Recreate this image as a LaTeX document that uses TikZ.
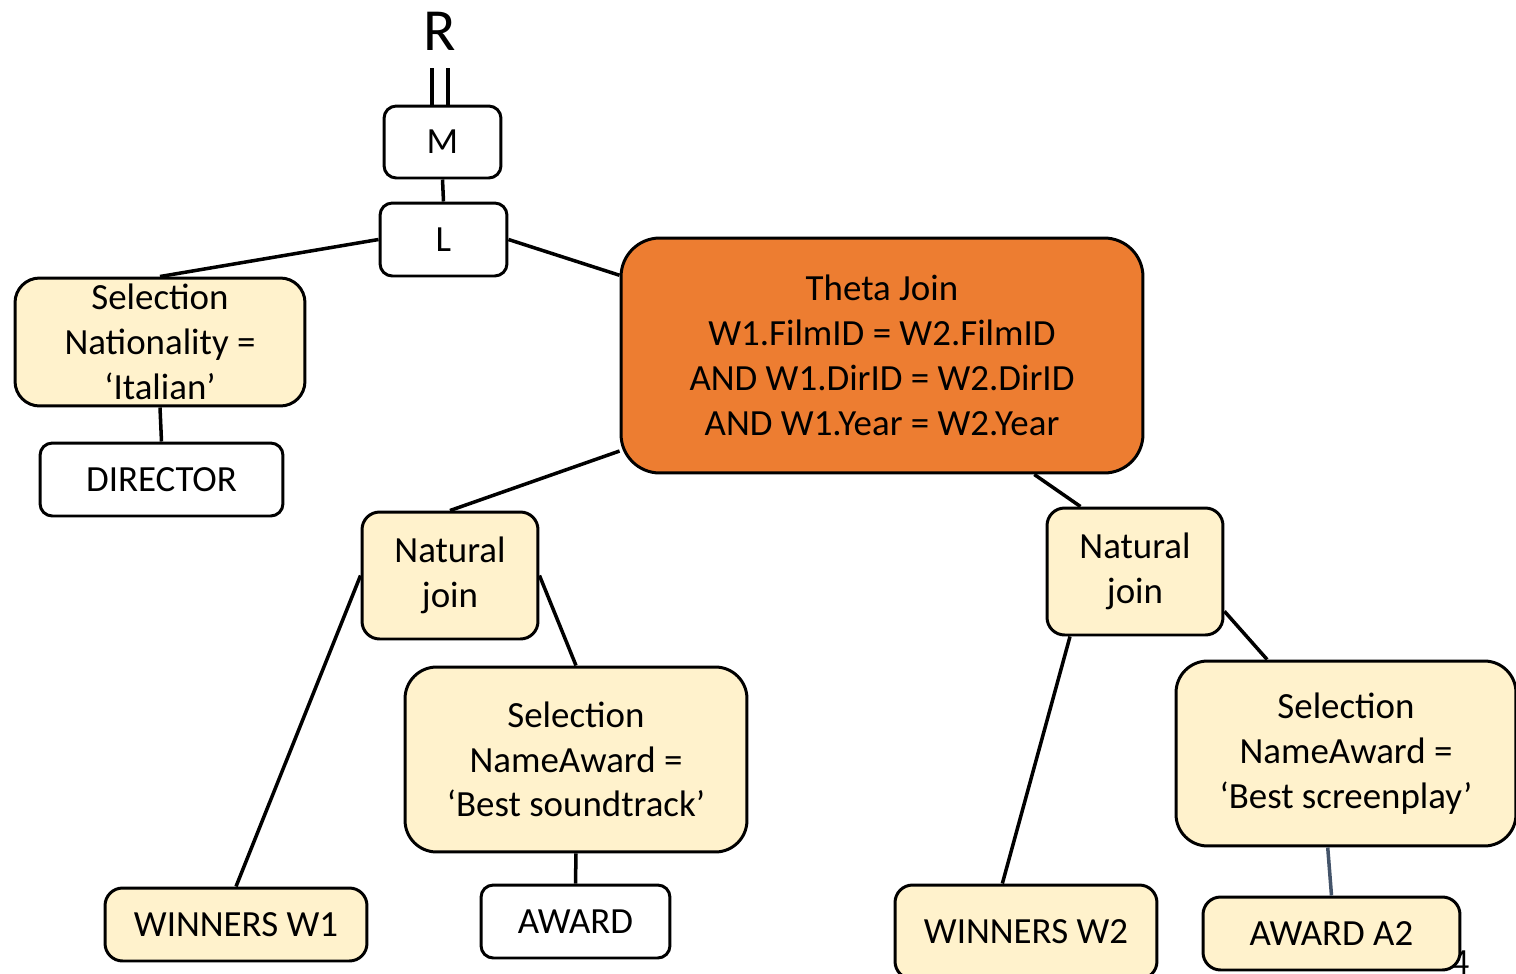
\documentclass[tikz,border=0pt]{standalone}
\usepackage{fontspec}
\setmainfont{Carlito}
\usepackage{tikz}
\usetikzlibrary{positioning,calc}
\definecolor{JoinOrange}{HTML}{ED7D31}
\definecolor{SelYellow}{HTML}{FFF2CC}
\definecolor{LinkSlate}{HTML}{44546A}

\begin{document}
\begin{tikzpicture}[x=0.02cm,y=-0.02cm,
  every node/.style={font=\fontsize{21}{25.5}\selectfont,align=center,inner sep=0pt},
  opbox/.style={draw,line width=1.7pt,rounded corners=7pt,fill=white},
  selbox/.style={opbox,fill=SelYellow,rounded corners=14pt},
  link/.style={line width=2pt}]
  \useasboundingbox (0,0) rectangle (1516,974);
  % result and top operators
  \node (R) at (440,31) {\fontsize{34}{40}\selectfont R};
  \node[opbox,minimum width=2.34cm,minimum height=1.44cm] (M) at (442.5,142) {M};
  \node[opbox,minimum width=2.54cm,minimum height=1.46cm] (L) at (443.5,239.5) {L};
  \coordinate (Ra) at (432,68);
  \coordinate (Rb) at (448,68);
  \draw[link] (Ra) -- (Ra |- M.north);
  \draw[link] (Rb) -- (Rb |- M.north);
  \draw[link] (M.south) -- (L.north);
  % director branch
  \node[selbox,minimum width=5.8cm,minimum height=2.56cm] (selNat) at (160,342)
    {Selection\\Nationality =\\‘Italian’};
  \node[opbox,minimum width=4.86cm,minimum height=1.46cm] (dir) at (161.5,479.5) {DIRECTOR};
  \draw[link] (L.west) -- (selNat.north);
  \draw[link] (selNat.south) -- (dir.north);
  % theta join
  \node[opbox,fill=JoinOrange,rounded corners=22pt,minimum width=10.44cm,minimum height=4.7cm] (theta) at (882,355.5)
    {Theta Join\\W1.FilmID = W2.FilmID\\AND W1.DirID = W2.DirID\\AND W1.Year = W2.Year};
  \draw[link] (L.east) -- (theta.163);
  % left natural join
  \node[selbox,rounded corners=10pt,minimum width=3.52cm,minimum height=2.54cm] (nj1) at (450,575.5) {Natural\\join};
  \node[selbox,rounded corners=10pt,minimum width=5.24cm,minimum height=1.46cm] (w1) at (236,924.5) {WINNERS W1};
  \node[selbox,rounded corners=18pt,minimum width=6.84cm,minimum height=3.7cm] (selSnd) at (576,759.5)
    {Selection\\NameAward =\\‘Best soundtrack’};
  \node[opbox,minimum width=3.78cm,minimum height=1.46cm] (award) at (575.5,921.5) {AWARD};
  \draw[link] (theta.200) -- (nj1.north);
  \draw[link] (nj1.west) -- (w1.north);
  \draw[link] (nj1.east) -- (selSnd.north);
  \draw[link] (selSnd.south) -- (award.north);
  % right natural join
  \node[selbox,rounded corners=10pt,minimum width=3.52cm,minimum height=2.54cm] (nj2) at (1135,571.5) {Natural\\join};
  \node[selbox,rounded corners=10pt,minimum width=5.24cm,minimum height=1.88cm] (w2) at (1026,932) {WINNERS W2};
  \node[selbox,rounded corners=18pt,minimum width=6.8cm,minimum height=3.7cm] (selScr) at (1346,753.5)
    {Selection\\NameAward =\\‘Best screenplay’};
  \node (pagenum) at (1460,963) {4};
  \node[selbox,rounded corners=10pt,minimum width=5.14cm,minimum height=1.46cm] (a2) at (1331.5,933.5) {AWARD A2};
  \draw[link] (theta.322.5) -- (nj2.130);
  \draw[link] (nj2.225) -- (w2.116);
  \draw[link] (nj2.-24) -- (selScr.130);
  \draw[link,LinkSlate] (selScr.259) -- (a2.north);
\end{tikzpicture}
\end{document}
